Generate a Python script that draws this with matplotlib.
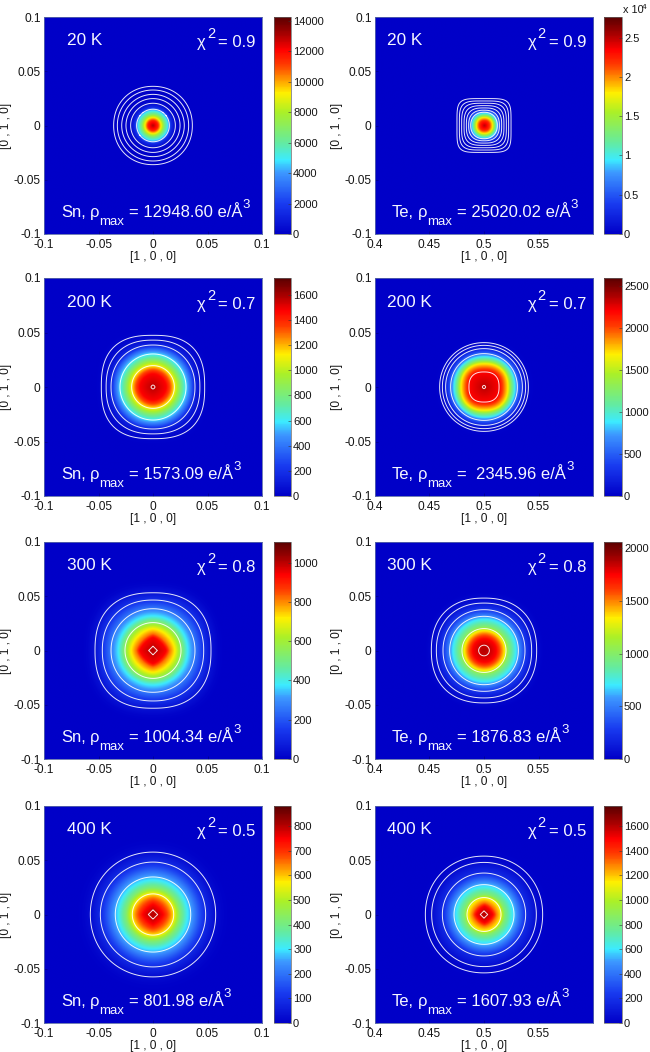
import numpy as np
import matplotlib
matplotlib.use('Agg')
import matplotlib.pyplot as plt
from matplotlib.colors import LinearSegmentedColormap

plt.rcParams['font.family'] = ['Liberation Sans', 'DejaVu Sans']

W, H = 650, 1052

sn20_r = [0, .0046, .0076, .0107, .0138, .0165, .0205, .0248, .0287, .0327, .0361, .045]
sn20_rho = [12949, 11500, 9000, 6500, 4800, 1500, 300, 120, 60, 30, 15, 0]
sn20_rings = [.015, .0205, .0248, .0287, .0327, .0361]
sn20_p = [2, 2, 2, 2, 2.05, 2.1]

te20_r = [0, .0046, .0076, .0098, .0122, .0141, .0162, .0183, .0248, .03]
te20_rho = [25020, 22000, 17500, 12500, 7500, 3000, 1000, 300, 20, 0]
te20_rings = [.0122, .0141, .0162, .0183, .0205, .0226, .0248]
te20_p = [2.2, 2.5, 2.9, 3.3, 3.8, 4.3, 5]

sn200_r = [0, .012, .016, .0196, .025, .0303, .035, .0385, .043, .0474, .052, .058]
sn200_rho = [1573, 1475, 1320, 1120, 830, 590, 350, 150, 55, 20, 5, 0]
sn200_rings = [.0018, .0196, .0303, .0385, .043, .0474]
sn200_p = [1.6, 2, 2, 2.15, 2.35, 2.6]

te200_r = [0, .0138, .018, .0214, .0245, .028, .0306, .0352, .0382, .0407, .046, .052]
te200_rho = [2346, 2200, 1920, 1680, 1240, 880, 570, 200, 70, 25, 5, 0]
te200_rings = [.0015, .0138, .0306, .0352, .0382, .0407]
te200_p = [1.6, 2.5, 2.05, 2.05, 2.05, 2.05]

sn300_r = [0, .004, .012, .0153, .02, .0257, .032, .0385, .0465, .0532, .06, .066]
sn300_rho = [1004, 990, 940, 818, 718, 550, 375, 265, 130, 50, 12, 0]
sn300_rings = [.004, .0257, .0385, .0465, .0532]
sn300_p = [1, 2, 2.05, 2.2, 2.4]

te300_r = [0, .0049, .0107, .0153, .0183, .022, .029, .0315, .0376, .0437, .0483, .054, .06]
te300_rho = [1877, 1840, 1750, 1524, 1340, 990, 700, 556, 270, 100, 35, 5, 0]
te300_rings = [.0049, .0202, .0315, .0376, .0437, .0483]
te300_p = [2, 2, 2.05, 2.1, 2.2, 2.3]

sn400_r = [0, .0043, .0092, .0153, .019, .0245, .032, .0346, .043, .0483, .0575, .064, .072]
sn400_rho = [802, 790, 750, 650, 573, 423, 300, 265, 150, 88, 26, 8, 0]
sn400_rings = [.0043, .019, .0346, .0483, .0575]
sn400_p = [1, 2, 2, 2, 2.05]

te400_r = [0, .0034, .0077, .0107, .0147, .0183, .026, .0275, .032, .0382, .048, .0538, .06, .067]
te400_rho = [1608, 1580, 1500, 1306, 1147, 850, 600, 550, 390, 180, 50, 15, 3, 0]
te400_rings = [.0034, .0156, .0275, .0382, .048, .0538]
te400_p = [1, 2, 2, 2, 2.05, 2.1]

vmax_vals = [14236, 27640, 1735, 2592, 1105, 2060, 882, 1765]
cbar_ticks = [
    [0, 2000, 4000, 6000, 8000, 10000, 12000, 14000],
    [0, 5000, 10000, 15000, 20000, 25000],
    [0, 200, 400, 600, 800, 1000, 1200, 1400, 1600],
    [0, 500, 1000, 1500, 2000, 2500],
    [0, 200, 400, 600, 800, 1000],
    [0, 500, 1000, 1500, 2000],
    [0, 100, 200, 300, 400, 500, 600, 700, 800],
    [0, 200, 400, 600, 800, 1000, 1200, 1400, 1600],
]
temps = ['20 K', '20 K', '200 K', '200 K', '300 K', '300 K', '400 K', '400 K']
chi_vals = ['0.9', '0.9', '0.7', '0.7', '0.8', '0.8', '0.5', '0.5']
rho_labels = ['= 12948.60 e/Å', '= 25020.02 e/Å', '= 1573.09 e/Å', '=  2345.96 e/Å',
              '= 1004.34 e/Å', '= 1876.83 e/Å', '= 801.98 e/Å', '= 1607.93 e/Å']

profiles = [
    (sn20_r, sn20_rho, sn20_rings, sn20_p), (te20_r, te20_rho, te20_rings, te20_p),
    (sn200_r, sn200_rho, sn200_rings, sn200_p), (te200_r, te200_rho, te200_rings, te200_p),
    (sn300_r, sn300_rho, sn300_rings, sn300_p), (te300_r, te300_rho, te300_rings, te300_p),
    (sn400_r, sn400_rho, sn400_rings, sn400_p), (te400_r, te400_rho, te400_rings, te400_p),
]

# modified jet, the bottom is lighter than matlab's
cmap = LinearSegmentedColormap.from_list('rho', [
    (0.0, (0, 0, 200 / 255)), (0.14, (25 / 255, 60 / 255, 240 / 255)),
    (0.28, (60 / 255, 150 / 255, 1)), (0.34, (60 / 255, 235 / 255, 1)),
    (0.42, (100 / 255, 235 / 255, 160 / 255)), (0.56, (170 / 255, 240 / 255, 40 / 255)),
    (0.65, (1, 240 / 255, 0)), (0.70, (1, 170 / 255, 0)),
    (0.78, (1, 60 / 255, 0)), (0.85, (1, 0, 0)),
    (0.92, (170 / 255, 0, 0)), (1.0, (90 / 255, 0, 0)),
])

fig = plt.figure(figsize=(W / 100, H / 100), dpi=100, facecolor='white')


def px_axes(x0, y0, x1, y1):
    return fig.add_axes([x0 / W, 1 - y1 / H, (x1 - x0) / W, (y1 - y0) / H])


def put_parts(ax, x, y, parts):
    # pieces of text side by side, sub and superscripts keep a big size here
    fig.canvas.draw_idle()
    renderer = fig.canvas.get_renderer()
    for s, size, dy, gap in parts:
        t = ax.annotate(s, xy=(0, 0), xycoords='axes fraction', xytext=(x, y + dy),
                        textcoords='offset pixels', color='#f4f6ff', fontsize=size,
                        ha='left', va='baseline')
        x += t.get_window_extent(renderer).width + gap


def norm_radius(dx, dy, ring_r, ring_p):
    u = np.hypot(dx, dy)
    for _ in range(6):
        p = np.interp(u, ring_r, ring_p)
        u = (np.abs(dx) ** p + np.abs(dy) ** p) ** (1 / p)
    return u


rows = [(17, 234), (278, 496), (542, 759), (806, 1023)]
cols = [(44, 262, 274, 291), (375, 593, 604, 622)]
BIG, SMALL = 12.0, 9.5
TICK = 8.6

for i, (r_vals, rho_vals, rings, ring_p) in enumerate(profiles):
    top, bottom = rows[i // 2]
    left, right, c0, c1 = cols[i % 2]
    is_te = i % 2 == 1
    cx = 0.5 if is_te else 0.0
    xlim = (cx - 0.1, cx + 0.1)

    ax = px_axes(left, top, right, bottom)
    xs = np.linspace(xlim[0], xlim[1], 601)
    ys = np.linspace(-0.1, 0.1, 601)
    X, Y = np.meshgrid(xs, ys)
    U = norm_radius(X - cx, Y, rings, ring_p)
    Z = np.interp(U, r_vals, rho_vals)
    im = ax.imshow(Z, origin='lower', extent=[xlim[0], xlim[1], -0.1, 0.1], cmap=cmap,
                   vmin=0, vmax=vmax_vals[i], aspect='auto', interpolation='bilinear')
    ax.contour(X, Y, U, levels=rings, colors='white', linewidths=0.7, alpha=0.9)

    ax.set_xlim(xlim)
    ax.set_ylim(-0.1, 0.1)
    if is_te:
        ax.set_xticks([0.4, 0.45, 0.5, 0.55])
        ax.set_xticklabels(['0.4', '0.45', '0.5', '0.55'])
    else:
        ax.set_xticks([-0.1, -0.05, 0, 0.05, 0.1])
        ax.set_xticklabels(['-0.1', '-0.05', '0', '0.05', '0.1'])
    ax.set_yticks([-0.1, -0.05, 0, 0.05, 0.1])
    ax.set_yticklabels(['-0.1', '-0.05', '0', '0.05', '0.1'])
    ax.tick_params(length=2, width=0.4, direction='in', color='#00007a', labelsize=TICK,
                   labelcolor='#151515', pad=2.5)
    ax.tick_params(axis='x', pad=3.5)
    for sp in ax.spines.values():
        sp.set_color('#5a69a8')
        sp.set_linewidth(0.6)
    ax.set_xlabel('[1 , 0 , 0]', fontsize=TICK, color='#151515')
    ax.xaxis.set_label_coords(0.5, -0.08)
    ax.set_ylabel('[0 , 1 , 0]', fontsize=TICK, color='#151515')
    ax.yaxis.set_label_coords(-0.147, 0.5)

    cax = px_axes(c0, top, c1, bottom)
    cb = fig.colorbar(im, cax=cax)
    cb.set_ticks(cbar_ticks[i])
    if i == 1:
        cb.set_ticklabels(['0', '0.5', '1', '1.5', '2', '2.5'])
    cax.tick_params(length=2, width=0.4, direction='in', color='#333333', labelsize=8.0,
                    labelcolor='#151515', pad=1.5)
    cb.outline.set_linewidth(0.5)
    cb.outline.set_edgecolor('#666666')

    put_parts(ax, 12 if is_te else 23, 189, [(temps[i], 12.4, 0, 0)])
    put_parts(ax, 153, 187, [('χ', BIG, 0, 1), ('2', 10.5, 9, 3), ('= ' + chi_vals[i], BIG, 0, 0)])
    put_parts(ax, 17, 17, [('Te,' if is_te else 'Sn,', BIG, 0, 4), ('ρ', BIG, 0, 0),
                           ('max', SMALL, -8, 5), (rho_labels[i], BIG, 0, 0), ('3', SMALL, 9, 0)])

fig.text(623 / W, 1 - 13 / H, 'x 10', fontsize=7.8, ha='left', va='baseline', color='#151515')
fig.text(642 / W, 1 - 9 / H, '4', fontsize=6, ha='left', va='baseline', color='#151515')

fig.savefig('out.png', dpi=100)
